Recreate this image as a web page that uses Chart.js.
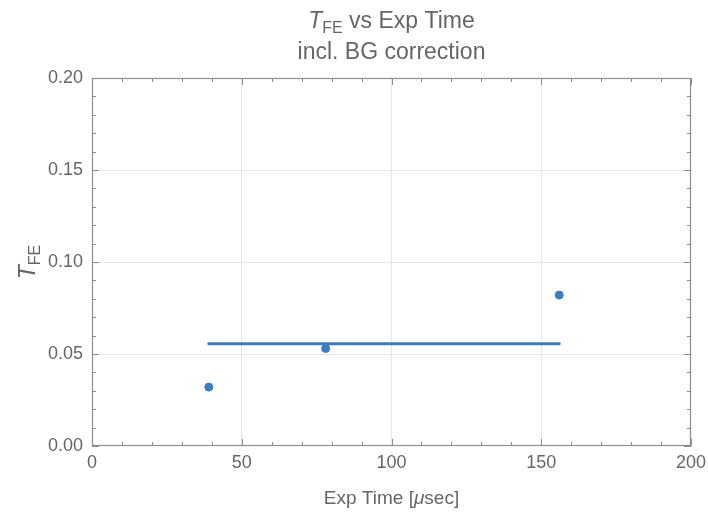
<!DOCTYPE html>
<html>
<head>
<meta charset="utf-8">
<script src="https://cdn.jsdelivr.net/npm/chart.js@4.4.1/dist/chart.umd.min.js"></script>
<style>
  html, body { margin: 0; padding: 0; background: #fff; }
  #wrap { width: 708px; height: 514px; }
</style>
</head>
<body>
<div id="wrap"><canvas id="myChart" width="708" height="514"></canvas></div>
<script>
// data
let expTime = [39, 78, 156];
let tFE = [0.032, 0.053, 0.082];
let fitX = [39, 156];
let fitY = [0.0556, 0.0556];

let xTicks = [0, 50, 100, 150, 200];
let yTicks = [0, 0.05, 0.10, 0.15, 0.20];

let blue = "#3d7cc0";
let textGray = "#666666";
let frameGray = "#8c8c8c";
let gridGray = "#e6e6e6";
let fontFam = "'Liberation Sans', Arial, sans-serif";

function isMajorX(v){ return xTicks.some(t => Math.abs(t - v) < 1e-6); }
function isMajorY(v){ return yTicks.some(t => Math.abs(t - v) < 1e-6); }

// draw a run of text pieces with different styles, centred on x
function drawRich(ctx, parts, x, y){
    let total = 0;
    parts.forEach(p => { ctx.font = p.font; total += ctx.measureText(p.text).width; });
    let cx = x - total / 2;
    parts.forEach(p => {
        ctx.font = p.font;
        ctx.fillText(p.text, cx, y + (p.dy || 0));
        cx += ctx.measureText(p.text).width;
    });
}

const framePlugin = {
    id: "frame",
    afterDraw(chart){
        let ctx = chart.ctx;
        let a = chart.chartArea;
        let xs = chart.scales.x, ys = chart.scales.y;
        ctx.save();
        ctx.strokeStyle = frameGray;
        ctx.lineWidth = 1.2;
        ctx.strokeRect(a.left + 0.5, a.top + 0.5, a.right - a.left - 1, a.bottom - a.top - 1);
        ctx.lineWidth = 1;
        ctx.beginPath();
        xs.ticks.forEach(t => {
            let px = Math.round(xs.getPixelForValue(t.value)) + 0.5;
            let len = isMajorX(t.value) ? 7 : 4;
            ctx.moveTo(px, a.bottom); ctx.lineTo(px, a.bottom - len);
            ctx.moveTo(px, a.top); ctx.lineTo(px, a.top + len);
        });
        ys.ticks.forEach(t => {
            let py = Math.round(ys.getPixelForValue(t.value)) + 0.5;
            let len = isMajorY(t.value) ? 7 : 4;
            ctx.moveTo(a.left, py); ctx.lineTo(a.left + len, py);
            ctx.moveTo(a.right, py); ctx.lineTo(a.right - len, py);
        });
        ctx.stroke();

        // titles
        ctx.fillStyle = textGray;
        ctx.textBaseline = "alphabetic";
        ctx.textAlign = "left";
        let cxMid = (a.left + a.right) / 2;
        drawRich(ctx, [
            {text: "T", font: "italic 23px " + fontFam},
            {text: "FE", font: "16px " + fontFam, dy: 5},
            {text: " vs Exp Time", font: "23px " + fontFam}
        ], cxMid, 28);
        drawRich(ctx, [{text: "incl. BG correction", font: "23px " + fontFam}], cxMid, 59);
        drawRich(ctx, [
            {text: "Exp Time [", font: "19px " + fontFam},
            {text: "\u03bc", font: "italic 19px " + fontFam},
            {text: "sec]", font: "19px " + fontFam}
        ], cxMid, 504);

        ctx.translate(35, (a.top + a.bottom) / 2);
        ctx.rotate(-Math.PI / 2);
        drawRich(ctx, [
            {text: "T", font: "italic 23px " + fontFam},
            {text: "FE", font: "16px " + fontFam, dy: 5}
        ], 0, 0);
        ctx.restore();
    }
};

new Chart("myChart", {
    type: "scatter",
    data: {
        datasets: [{
            type: "line",
            data: fitX.map((x, i) => ({x: x, y: fitY[i]})),
            borderColor: blue,
            borderWidth: 3,
            borderCapStyle: "round",
            pointRadius: 0,
            fill: false
        }, {
            data: expTime.map((x, i) => ({x: x, y: tFE[i]})),
            backgroundColor: blue,
            borderColor: blue,
            pointRadius: 4,
            pointHoverRadius: 4
        }]
    },
    options: {
        responsive: false,
        animation: false,
        events: [],
        layout: {padding: {top: 78, right: 17, left: 0, bottom: 0}},
        plugins: {legend: {display: false}, tooltip: {enabled: false}, title: {display: false}},
        scales: {
            x: {
                type: "linear", min: 0, max: 200,
                border: {display: false},
                grid: {
                    drawTicks: false,
                    color: c => (c.tick && isMajorX(c.tick.value) && c.tick.value > 0 && c.tick.value < 200) ? gridGray : "rgba(0,0,0,0)"
                },
                ticks: {
                    stepSize: 10, padding: 6, color: textGray, maxRotation: 0, autoSkip: false,
                    font: {family: fontFam, size: 18},
                    callback: v => isMajorX(v) ? String(Math.round(v)) : ""
                },
                afterFit(scale){ scale.height = 68; scale.paddingRight = 0; scale.paddingLeft = 0; }
            },
            y: {
                type: "linear", min: 0, max: 0.2,
                border: {display: false},
                grid: {
                    drawTicks: false,
                    color: c => (c.tick && isMajorY(c.tick.value) && c.tick.value > 0.001 && c.tick.value < 0.199) ? gridGray : "rgba(0,0,0,0)"
                },
                ticks: {
                    stepSize: 0.01, padding: 9, color: textGray, autoSkip: false,
                    font: {family: fontFam, size: 18},
                    callback: v => isMajorY(v) ? v.toFixed(2) : ""
                },
                afterFit(scale){ scale.width = 92; scale.paddingTop = 0; scale.paddingBottom = 0; }
            }
        }
    },
    plugins: [framePlugin]
});
</script>
</body>
</html>
